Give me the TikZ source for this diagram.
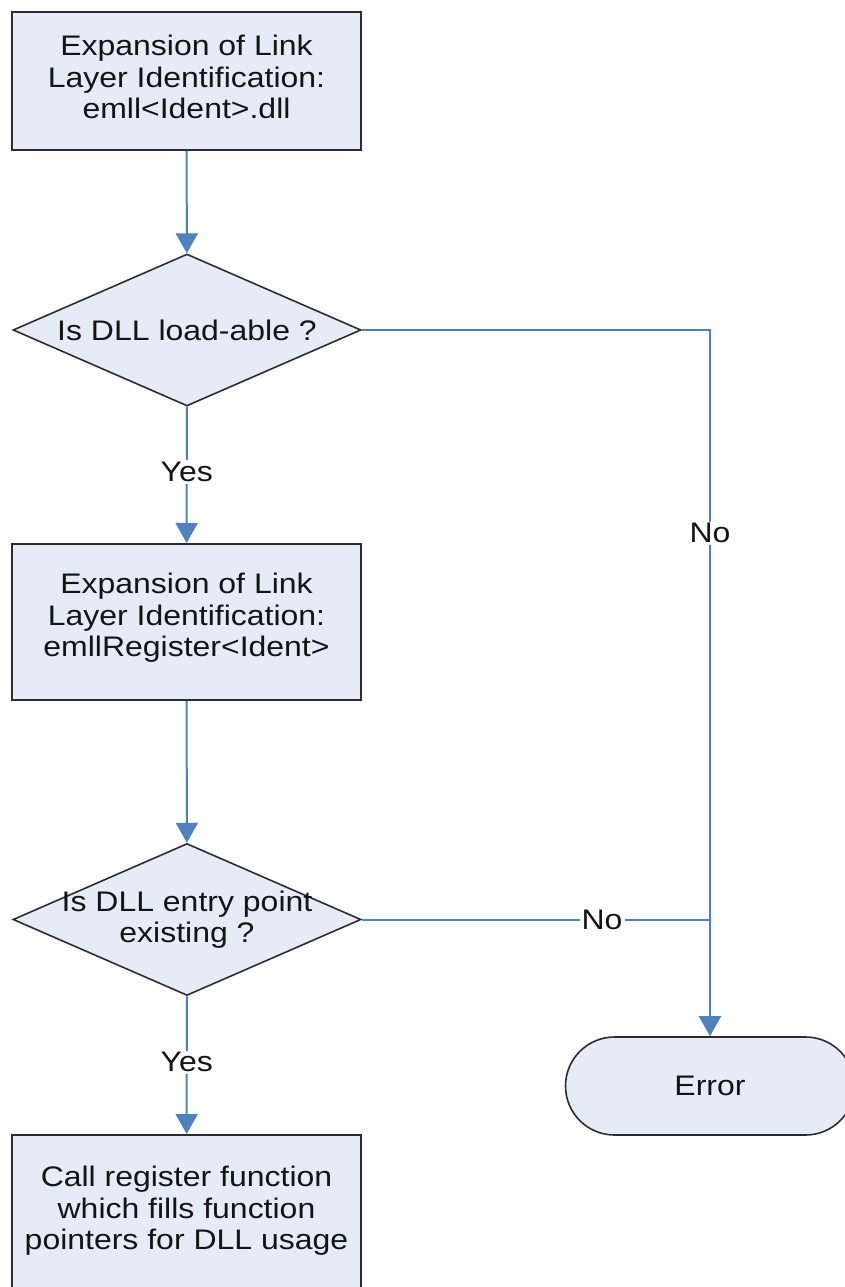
\documentclass[tikz,border=0pt]{standalone}
\usepackage{fontspec}
\setmainfont[FakeStretch=1.13]{Liberation Sans}
\usetikzlibrary{shapes.geometric,arrows.meta}
\definecolor{flowfill}{RGB}{230,236,247}
\definecolor{flowline}{RGB}{79,129,189}
\definecolor{flowborder}{RGB}{45,45,45}

\begin{document}
\begin{tikzpicture}[x=1pt,y=-1pt,
  every node/.style={font=\fontsize{28.3}{31.5}\selectfont,text=black!92},
  stepbox/.style={draw=flowborder,line width=2pt,fill=flowfill,minimum width=349pt,inner sep=0pt},
  steptext/.style={align=center,yshift=4pt},
  decision/.style={diamond,draw=flowborder,line width=1.6pt,fill=flowfill,minimum width=348pt,minimum height=152pt,inner sep=0pt},
  terminal/.style={rectangle,rounded corners=49pt,draw=flowborder,line width=1.6pt,fill=flowfill,minimum width=289pt,minimum height=98pt},
  flow/.style={draw=flowline,line width=2pt,-{Triangle[width=22pt,length=20pt,fill=flowline]}},
  link/.style={draw=flowline,line width=2pt},
  tag/.style={fill=white,inner sep=2pt}
]
\clip (0,0) rectangle (845,1287);

% process steps
\node[stepbox,minimum height=138pt,
  label={[steptext]center:Expansion of Link\\Layer Identification:\\emll<Ident>.dll}]
  (expand) at (186.5,81) {};
\node[stepbox,minimum height=156pt,
  label={[steptext]center:Expansion of Link\\Layer Identification:\\emllRegister<Ident>}]
  (register) at (186.5,622) {};
\node[stepbox,minimum height=160pt,
  label={[steptext]center:Call register function\\which fills function\\pointers for DLL usage}]
  (call) at (186.5,1215) {};

% decisions
\node[decision,label={center:Is DLL load-able ?}] (loadable) at (187,330) {};
\node[decision,label={[align=center]center:Is DLL entry point\\existing ?}] (entry) at (187,919.5) {};

% end state
\node[terminal] (error) at (710,1086) {Error};

\coordinate (join) at (710,919.5);

% connectors
\draw[flow] (expand) -- (loadable);
\draw[flow] (loadable) -- node[tag,pos=0.48] {Yes} (register);
\draw[flow] (register) -- (entry);
\draw[flow] (entry) -- node[tag,pos=0.48] {Yes} (call);
\draw[flow] (loadable.east) -| node[tag,pos=0.644] {No} (error.north);
\draw[link] (entry.east) -- node[tag,pos=0.69] {No} (join);
\end{tikzpicture}
\end{document}
